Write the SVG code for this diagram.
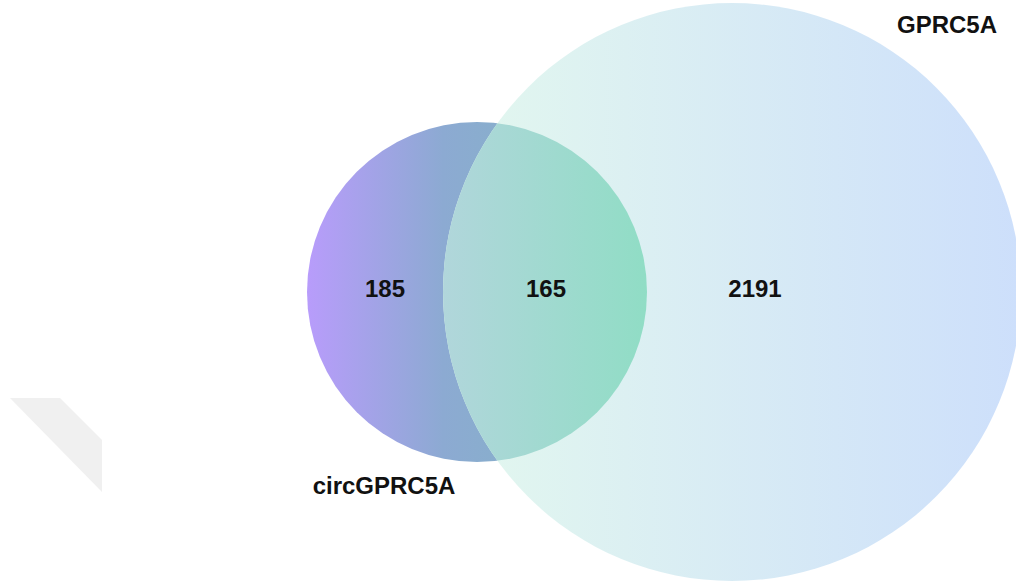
<svg xmlns="http://www.w3.org/2000/svg" width="1016" height="587" viewBox="0 0 1016 587">
  <style>
    .lbl { font-family: "Liberation Sans", Arial, sans-serif; font-weight: bold; font-size: 24px; fill: #111; text-anchor: middle; }
  </style>
  <defs>
    <linearGradient id="gSmall" gradientUnits="userSpaceOnUse" x1="307" y1="0" x2="648" y2="0">
      <stop offset="0" stop-color="#b89cfb"/>
      <stop offset="0.4" stop-color="#8caad2"/>
      <stop offset="1" stop-color="#80b8c0"/>
    </linearGradient>
    <linearGradient id="gBig" gradientUnits="userSpaceOnUse" x1="442" y1="0" x2="1020" y2="0">
      <stop offset="0" stop-color="#e3f8ee"/>
      <stop offset="1" stop-color="#cddffb"/>
    </linearGradient>
    <linearGradient id="gOver" gradientUnits="userSpaceOnUse" x1="443" y1="0" x2="648" y2="0">
      <stop offset="0" stop-color="#b1d6db"/>
      <stop offset="1" stop-color="#90ddc5"/>
    </linearGradient>
    <clipPath id="clipBig">
      <circle cx="732" cy="292" r="289"/>
    </clipPath>
  </defs>
  <rect width="1016" height="587" fill="#ffffff"/>
  <polygon points="10,398 60,398 102,440 102,492" fill="#f0f0f0"/>
  <g id="set-circGPRC5A">
    <circle cx="477" cy="292" r="170" fill="url(#gSmall)"/>
  </g>
  <g id="set-GPRC5A">
    <circle cx="732" cy="292" r="289" fill="url(#gBig)"/>
  </g>
  <g id="overlap">
    <circle cx="477" cy="292" r="170" fill="url(#gOver)" clip-path="url(#clipBig)"/>
  </g>
  <g id="connectors"/>
  <g id="labels">
    <text class="lbl" x="385" y="297">185</text>
    <text class="lbl" x="546" y="297">165</text>
    <text class="lbl" x="755" y="297">2191</text>
    <text class="lbl" x="947" y="33">GPRC5A</text>
    <text class="lbl" x="384" y="494">circGPRC5A</text>
  </g>
</svg>
